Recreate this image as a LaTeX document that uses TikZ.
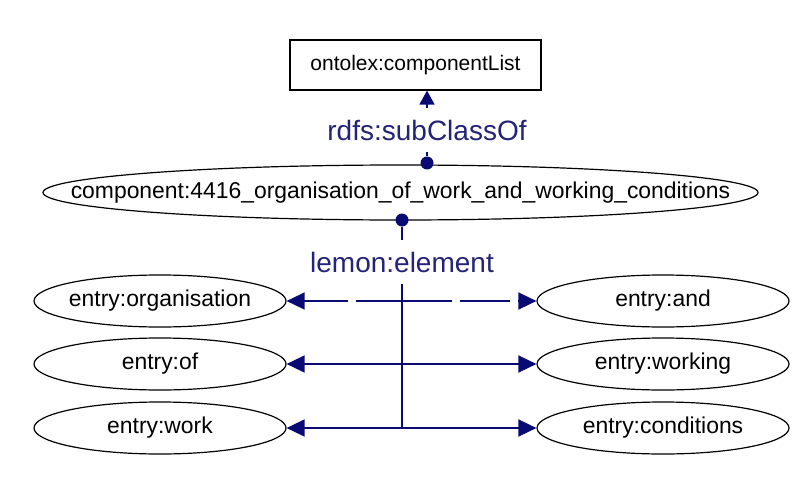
\documentclass[tikz,border=0pt]{standalone}
\usepackage{fontspec}
\setmainfont{Liberation Sans}
\usetikzlibrary{shapes.geometric,arrows.meta}
\definecolor{edgeblue}{RGB}{10,10,115}
\definecolor{labelblue}{RGB}{35,35,120}
\begin{document}
\begin{tikzpicture}[x=1pt,y=-1pt,
  classbox/.style={rectangle,draw=black,line width=1.2pt,inner sep=0pt,
    minimum width=251pt,minimum height=50pt,font=\fontsize{21}{23}\selectfont},
  bigoval/.style={ellipse,draw=black,line width=1.2pt,inner sep=0pt,
    minimum width=715pt,minimum height=55pt,font=\fontsize{22.9}{25}\selectfont},
  entryoval/.style={ellipse,draw=black,line width=1.2pt,inner sep=0pt,
    minimum width=252pt,minimum height=52pt,font=\fontsize{22.9}{25}\selectfont},
  pin/.style={circle,fill=edgeblue,inner sep=0pt,minimum size=13pt},
  relabel/.style={fill=white,text=labelblue,inner xsep=4pt,inner ysep=12pt,
    font=\fontsize{28}{30}\selectfont},
  link/.style={draw=edgeblue,line width=1.5pt},
  tohead/.style={-{Triangle[length=18pt,width=17pt]}},
  uphead/.style={-{Triangle[length=14pt,width=15pt]}}
]
\useasboundingbox[fill=white] (0,0) rectangle (802,476);

% class and component
\node[classbox] (list) at (415.5,65) {ontolex:componentList};
\node[bigoval] (comp) at (400.5,192.5)
  {\makebox[0pt]{component:4416\_organisation\_of\_work\_and\_working\_conditions}};

% entries
\node[entryoval] (organisation) at (160,301) {\makebox[0pt]{entry:organisation}};
\node[entryoval] (of)           at (160,364) {\makebox[0pt]{entry:of}};
\node[entryoval] (work)         at (160,428) {\makebox[0pt]{entry:work}};
\node[entryoval] (and)          at (663,301) {\makebox[0pt]{entry:and}};
\node[entryoval] (working)      at (663,364) {\makebox[0pt]{entry:working}};
\node[entryoval] (conditions)   at (663,428) {\makebox[0pt]{entry:conditions}};

% junctions on the element trunk
\coordinate (j1) at (402,301);
\coordinate (j2) at (402,364);
\coordinate (j3) at (402,428);

% subclass link
\node[pin] (subpin) at (427,163) {};
\draw[link,uphead] (subpin) -- node[pos=0.4,relabel] {rdfs:subClassOf} (subpin |- list.south);

% element trunk
\node[pin] (elempin) at (402,220) {};
\draw[link] (elempin) -- node[pos=0.176,relabel] {lemon:element} (j3);

% branches to the entries
\draw[link,tohead,dash pattern=on 46pt off 8pt] (j1) -- (organisation);
\draw[link,tohead,dash pattern=on 50pt off 8pt] (j1) -- (and);
\draw[link,tohead] (j2) -- (of);
\draw[link,tohead] (j2) -- (working);
\draw[link,tohead] (j3) -- (work);
\draw[link,tohead] (j3) -- (conditions);
\end{tikzpicture}
\end{document}
